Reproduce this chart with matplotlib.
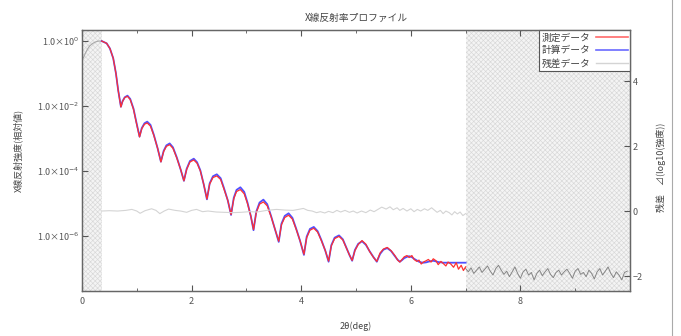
import numpy as np
import matplotlib
matplotlib.use("Agg")
import matplotlib.pyplot as plt
from matplotlib.lines import Line2D
from matplotlib.ticker import FixedLocator, FuncFormatter

plt.rcParams['font.family'] = ['Noto Sans CJK JP', 'DejaVu Sans']
plt.rcParams['hatch.linewidth'] = 0.45

# --- données (log10 de l'intensité) ---
x_fit = [0.36, 0.45, 0.51, 0.57, 0.62, 0.66, 0.71, 0.74, 0.78, 0.83, 0.88, 0.94, 0.99,
         1.05, 1.09, 1.14, 1.19, 1.25, 1.31, 1.38, 1.44, 1.49, 1.54, 1.60, 1.66, 1.73,
         1.80, 1.86, 1.91, 1.97, 2.04, 2.10, 2.16, 2.22, 2.28, 2.33, 2.39, 2.46, 2.53,
         2.59, 2.66, 2.72, 2.77, 2.82, 2.89, 2.96, 3.02, 3.08, 3.13, 3.18, 3.24, 3.31,
         3.38, 3.45, 3.52, 3.59, 3.64, 3.70, 3.77, 3.84, 3.91, 3.98, 4.05, 4.10, 4.16,
         4.23, 4.30, 4.37, 4.44, 4.50, 4.55, 4.61, 4.69, 4.76, 4.82, 4.88, 4.93, 4.98,
         5.04, 5.11, 5.18, 5.25, 5.32, 5.38, 5.44, 5.50, 5.57, 5.64, 5.71, 5.76, 5.80,
         5.84, 5.88, 5.93, 5.97, 6.02, 6.06, 6.11, 6.15, 6.19, 6.23, 6.28, 6.32, 6.37,
         6.41, 6.46, 6.50, 6.55, 6.59, 6.64, 6.68, 6.73, 6.78, 6.83, 6.87, 6.92, 6.96, 7.00]

log_calc = [0.00, -0.07, -0.23, -0.53, -1.00, -1.51, -2.02, -1.85, -1.73, -1.68, -1.78, -2.08, -2.48,
            -2.94, -2.68, -2.53, -2.48, -2.58, -2.88, -3.30, -3.71, -3.38, -3.21, -3.15, -3.27, -3.58,
            -3.95, -4.30, -3.93, -3.69, -3.62, -3.73, -3.98, -4.40, -4.87, -4.38, -4.16, -4.10, -4.22,
            -4.52, -4.90, -5.35, -4.82, -4.58, -4.50, -4.64, -4.97, -5.38, -5.82, -5.25, -4.97, -4.88,
            -5.02, -5.38, -5.78, -6.18, -5.62, -5.38, -5.30, -5.44, -5.78, -6.15, -6.58, -6.02, -5.78,
            -5.72, -5.85, -6.13, -6.45, -6.79, -6.28, -6.05, -5.98, -6.10, -6.34, -6.58, -6.76, -6.43,
            -6.24, -6.16, -6.27, -6.47, -6.65, -6.79, -6.55, -6.42, -6.37, -6.46, -6.62, -6.73, -6.79,
            -6.74, -6.68, -6.64, -6.62, -6.65, -6.70, -6.75, -6.79, -6.81, -6.82, -6.81, -6.79, -6.77,
            -6.76, -6.78, -6.80, -6.81, -6.82, -6.82, -6.82, -6.82, -6.82, -6.82, -6.82, -6.82, -6.82, -6.82]

log_meas = [0.00, -0.07, -0.23, -0.53, -1.00, -1.51, -2.03, -1.86, -1.74, -1.70, -1.80, -2.10, -2.50,
            -2.95, -2.70, -2.56, -2.52, -2.62, -2.90, -3.30, -3.72, -3.40, -3.24, -3.19, -3.30, -3.60,
            -3.95, -4.30, -3.95, -3.72, -3.66, -3.76, -4.00, -4.40, -4.86, -4.40, -4.20, -4.15, -4.26,
            -4.55, -4.90, -5.34, -4.85, -4.63, -4.57, -4.70, -5.00, -5.38, -5.80, -5.28, -5.02, -4.95,
            -5.07, -5.40, -5.78, -6.16, -5.65, -5.43, -5.36, -5.48, -5.80, -6.15, -6.56, -6.05, -5.82,
            -5.76, -5.88, -6.15, -6.45, -6.77, -6.30, -6.08, -6.01, -6.12, -6.35, -6.58, -6.75, -6.45,
            -6.26, -6.14, -6.25, -6.48, -6.66, -6.78, -6.52, -6.40, -6.35, -6.45, -6.60, -6.74, -6.80,
            -6.72, -6.64, -6.60, -6.66, -6.60, -6.72, -6.78, -6.74, -6.86, -6.80, -6.76, -6.72, -6.80,
            -6.70, -6.76, -6.88, -6.78, -6.84, -6.92, -6.80, -6.86, -6.96, -6.82, -7.02, -6.90, -7.06, -6.95]

# zones exclues (en gris)
x_low = [0.00, 0.03, 0.06, 0.10, 0.14, 0.19, 0.24, 0.30, 0.36]
log_low = [-0.58, -0.50, -0.38, -0.25, -0.15, -0.08, -0.03, 0.00, 0.00]

x_high = [7.00, 7.05, 7.10, 7.15, 7.20, 7.25, 7.30, 7.35, 7.40, 7.45, 7.50, 7.55, 7.60, 7.65, 7.70,
          7.75, 7.80, 7.85, 7.90, 7.95, 8.00, 8.05, 8.10, 8.15, 8.20, 8.25, 8.30, 8.35, 8.40, 8.45,
          8.50, 8.55, 8.60, 8.65, 8.70, 8.75, 8.80, 8.85, 8.90, 8.95, 9.00, 9.05, 9.10, 9.15, 9.20,
          9.25, 9.30, 9.35, 9.40, 9.45, 9.50, 9.55, 9.60, 9.65, 9.70, 9.75, 9.80, 9.85, 9.90, 9.95]
log_high = [-7.00, -7.10, -6.98, -7.15, -7.05, -6.95, -7.12, -7.02, -6.92, -7.08, -7.20, -7.00, -6.90,
            -7.05, -7.18, -7.08, -7.25, -7.10, -6.95, -7.15, -7.30, -7.10, -7.02, -7.20, -7.12, -7.35,
            -7.15, -7.05, -7.22, -7.10, -7.00, -7.18, -7.28, -7.12, -7.05, -7.20, -7.10, -7.02, -7.15,
            -7.30, -7.08, -7.00, -7.18, -7.12, -7.25, -7.05, -7.15, -7.32, -7.10, -7.00, -7.20, -7.08,
            -6.95, -7.15, -7.28, -7.10, -7.20, -7.35, -7.12, -7.08]

# résidu (axe de droite)
x_res = [0.36, 0.50, 0.65, 0.80, 0.91, 1.00, 1.06, 1.15, 1.27, 1.35, 1.42, 1.50, 1.58, 1.70, 1.80,
         1.91, 2.00, 2.09, 2.20, 2.30, 2.45, 2.60, 2.75, 2.90, 3.05, 3.20, 3.37, 3.55, 3.70, 3.85,
         3.95, 4.04, 4.12, 4.20, 4.28, 4.35, 4.43, 4.50, 4.58, 4.65, 4.72, 4.80, 4.88, 4.95, 5.02,
         5.10, 5.18, 5.26, 5.33, 5.40, 5.47, 5.55, 5.62, 5.68, 5.75, 5.80, 5.86, 5.93, 6.00, 6.06,
         6.12, 6.18, 6.25, 6.31, 6.38, 6.43, 6.48, 6.54, 6.59, 6.64, 6.70, 6.75, 6.80, 6.85, 6.90,
         6.95, 7.00]
res = [0.00, 0.01, 0.00, 0.02, 0.05, 0.00, -0.07, 0.01, 0.07, 0.02, -0.08, 0.00, 0.06, 0.02, 0.00,
       -0.04, 0.02, 0.05, -0.02, 0.00, -0.03, -0.04, -0.05, -0.04, -0.02, -0.03, 0.02, 0.05, 0.03, 0.02,
       0.05, 0.08, 0.02, 0.00, -0.05, -0.02, -0.06, -0.01, -0.05, 0.02, -0.03, 0.02, -0.04, 0.00, -0.06,
       0.00, -0.05, 0.03, -0.02, 0.05, 0.12, 0.06, 0.13, 0.04, 0.10, 0.02, 0.08, 0.00, 0.07, -0.02,
       0.05, 0.00, 0.07, 0.02, 0.10, 0.03, -0.04, 0.02, -0.08, 0.00, -0.05, -0.12, -0.02, -0.09, -0.03,
       -0.14, -0.08]

fig = plt.figure(figsize=(6.81, 3.36), dpi=100)
ax = fig.add_axes([0.1204, 0.134, 0.8047, 0.7767])
ax2 = ax.twinx()

# zones hachurées
for a, b in [(0, 0.36), (7.0, 10.0)]:
    ax.axvspan(a, b, facecolor='#f4f4f4', edgecolor='#d8d8d8', hatch='xxxxxxx', lw=0, zorder=0)

ax.semilogy(x_low, 10 ** np.array(log_low), color='#a8a8a8', lw=0.8)
ax.semilogy(x_high, 10 ** np.array(log_high), color='#858585', lw=0.7)
l1, = ax.semilogy(x_fit, 10 ** np.array(log_calc), color='#5050ff', lw=1.3)
l0, = ax.semilogy(x_fit, 10 ** np.array(log_meas), color='#ff3030', lw=0.9)
l2, = ax2.plot(x_res, res, color='#d4d4d4', lw=0.8)

ax.set_xlim(0, 10)
ax.set_ylim(10 ** -7.69, 10 ** 0.34)
ax2.set_ylim(-2.46, 5.57)

ax.xaxis.set_major_locator(FixedLocator([0, 2, 4, 6, 8]))
ax.xaxis.set_minor_locator(FixedLocator([1, 3, 5, 7, 9]))
ax.yaxis.set_major_locator(FixedLocator([1e0, 1e-2, 1e-4, 1e-6]))
ax.yaxis.set_minor_locator(FixedLocator([]))
ax.yaxis.set_major_formatter(FuncFormatter(lambda v, p: r'1.0×10$^{%d}$' % round(np.log10(v))))
ax2.yaxis.set_major_locator(FixedLocator([-2, 0, 2, 4]))

ax.tick_params(axis='both', which='both', direction='in', top=True, right=False,
               labelsize=6.5, labelcolor='#555555', color='#555555', pad=2)
ax.tick_params(axis='x', which='major', length=4, pad=4)
ax.tick_params(axis='x', which='minor', length=2.5)
ax.tick_params(axis='y', length=4)
ax2.tick_params(axis='y', direction='in', length=4, labelsize=6.5, labelcolor='#555555',
                color='#555555', pad=2)

for a in (ax, ax2):
    for s in a.spines.values():
        s.set_color('#666666')
        s.set_linewidth(0.9)

h0 = Line2D([], [], color='#ff6a6a', lw=1.2)
h1 = Line2D([], [], color='#6a6aff', lw=1.2)
h2 = Line2D([], [], color='#d4d4d4', lw=1.0)
leg = ax.legend([h0, h1, h2], ['測定データ', '計算データ', '残差データ'], loc='upper right',
                fontsize=7, markerfirst=False, handlelength=3.2, borderaxespad=0,
                fancybox=False, framealpha=1, edgecolor='#555555', labelspacing=0.3,
                borderpad=0.25, handletextpad=0.6)
leg.get_frame().set_linewidth(0.8)
for t in leg.get_texts():
    t.set_color('#444444')

fig.text(356 / 681, 1 - 18 / 336, 'X線反射率プロファイル', ha='center', va='center',
         fontsize=7, color='#444444')
fig.text(356 / 681, 1 - 326 / 336, '2θ(deg)', ha='center', va='center',
         fontsize=6.5, color='#444444')
fig.text(18 / 681, 1 - 150 / 336, 'X線反射強度(相対値)', ha='center', va='center',
         rotation=90, fontsize=6.5, color='#444444')
fig.text(661 / 681, 1 - 167 / 336, '残差　⊿(log10(強度))', ha='center', va='center',
         rotation=90, fontsize=6.5, color='#444444')

fig.add_artist(Line2D([672 / 681, 672 / 681], [0, 1], color='#aaaaaa', lw=0.8))

fig.savefig('out.png', dpi=100)
